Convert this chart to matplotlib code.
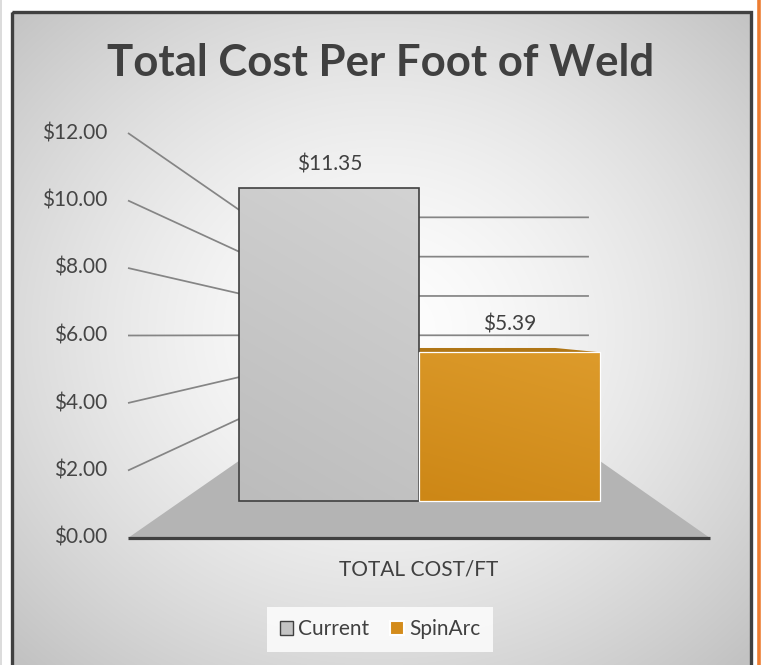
import numpy as np
import matplotlib
matplotlib.use("Agg")
import matplotlib.pyplot as plt
from matplotlib.patches import Polygon, Rectangle, Patch

# ---- data ----
title = "Total Cost Per Foot of Weld"
category = "TOTAL COST/FT"
series = ["Current", "SpinArc"]
values = [11.35, 5.39]
value_labels = ["$11.35", "$5.39"]
yticks = [0, 2, 4, 6, 8, 10, 12]
ytick_labels = ["$0.00", "$2.00", "$4.00", "$6.00", "$8.00", "$10.00", "$12.00"]

# ---- style ----
W, H = 762, 665
FONT = ["Lato", "DejaVu Sans"]
TXT = "#404040"
TICK = "#454545"

fig = plt.figure(figsize=(W / 100, H / 100), dpi=100)
ax = fig.add_axes([0, 0, 1, 1])
ax.set_xlim(0, W)
ax.set_ylim(H, 0)
ax.axis("off")

# ---- background (frame with radial gradient) ----
fx0, fy0, fx1, fy1 = 12, 12, 750, 665
yy, xx = np.mgrid[fy0:fy1, fx0:fx1]
cx, cy = 381, 330
r = np.sqrt(((xx - cx) / ((fx1 - fx0) / 2)) ** 2 + ((yy - cy) / ((fy1 - fy0) / 2)) ** 2) / np.sqrt(2)
r = np.clip(r, 0, 1)
g = (254 - (254 - 194) * r ** 1.5) / 255
ax.imshow(np.dstack([g, g, g]), extent=(fx0, fx1, fy1, fy0), zorder=0, interpolation="bilinear")
ax.add_patch(Rectangle((fx0 - 0.5, fy0 - 0.5), fx1 - fx0 + 1, fy1 - fy0 + 10,
                       fill=False, edgecolor="#404040", lw=2.4, zorder=1))
ax.plot([758.5, 758.5], [0, H], color="#ed7d31", lw=2.6, zorder=1)
ax.plot([0.8, 0.8], [0, H], color="#d6d6d6", lw=1.2, zorder=1)

# ---- perspective projection ----
VPX, VPY = 420.0, 335.0          # vanishing point
FX0, FW = 128.0, 582.0           # front plane x origin / width
FY0, PPU = 538.0, 33.75          # front plane zero line / pixels per $
S_BACK = 0.5825                  # scale of back wall
S_BAR_FRONT, S_BAR_BACK = 0.818, 0.616
GAP, BW = 0.122, 0.3785          # bar placement in category width


def proj(u, v, s):
    xf = FX0 + FW * u
    yf = FY0 - PPU * v
    return (VPX + s * (xf - VPX), VPY + s * (yf - VPY))


# wall gridlines
gcol = "#858585"
for v in yticks[1:]:
    a = proj(0, v, 1.0)
    b = proj(0, v, S_BACK)
    c = proj(1, v, S_BACK)
    ax.plot([a[0], b[0], c[0]], [a[1], b[1], c[1]], color=gcol, lw=1.25, zorder=2,
            solid_capstyle="butt")

# floor
floor = [proj(0, 0, 1), proj(1, 0, 1), proj(1, 0, S_BACK), proj(0, 0, S_BACK)]
ax.add_patch(Polygon(floor, closed=True, facecolor="#b4b4b4", edgecolor="none", zorder=3))
a, b = proj(0, 0, 1), proj(1, 0, 1)
ax.plot([a[0], b[0]], [a[1], b[1]], color="#404040", lw=2.3, zorder=4, solid_capstyle="butt")

# tick labels
for v, lab in zip(yticks, ytick_labels):
    x, y = proj(0, v, 1)
    ax.text(x - 21, y, lab, ha="right", va="center", fontsize=15, color=TICK, family=FONT)

ax.text(proj(0.5, 0, 1)[0], 570, category, ha="center", va="center",
        fontsize=15, color=TXT, family=FONT)


def grad_poly(pts, c_top, c_bot, z, edge=None, lw=0.0):
    pts = np.array(pts)
    x0, x1 = pts[:, 0].min(), pts[:, 0].max()
    y0, y1 = pts[:, 1].min(), pts[:, 1].max()
    n = 64
    ty, tx = np.mgrid[0:1:n * 1j, 0:1:n * 1j]
    t = np.clip(0.75 * ty + 0.25 * (1 - tx), 0, 1)
    ct = np.array(matplotlib.colors.to_rgb(c_top))
    cb = np.array(matplotlib.colors.to_rgb(c_bot))
    img = ct[None, None, :] * (1 - t[..., None]) + cb[None, None, :] * t[..., None]
    im = ax.imshow(img, extent=(x0, x1, y1, y0), zorder=z, interpolation="bilinear")
    poly = Polygon(pts, closed=True, facecolor="none", edgecolor="none")
    ax.add_patch(poly)
    im.set_clip_path(poly)
    if edge is not None:
        ax.add_patch(Polygon(pts, closed=True, facecolor="none", edgecolor=edge,
                             lw=lw, zorder=z + 0.1, joinstyle="miter"))


face_top = ["#d3d3d3", "#dd9b2b"]
face_bot = ["#bcbcbc", "#cd8716"]
edges = ["#404040", "#ffffff"]
top_col = ["#a0a0a0", "#b07616"]

bars = []
for i, val in enumerate(values):
    u0 = GAP + i * BW
    u1 = u0 + BW
    bars.append((u0, u1, val))

# top faces (visible when below horizon)
for i, (u0, u1, val) in enumerate(bars):
    if proj(0, val, S_BAR_FRONT)[1] > VPY:
        top = [proj(u0, val, S_BAR_FRONT), proj(u1, val, S_BAR_FRONT),
               proj(u1, val, S_BAR_BACK), proj(u0, val, S_BAR_BACK)]
        ax.add_patch(Polygon(top, closed=True, facecolor=top_col[i], edgecolor="none", zorder=5))

# front faces
for i, (u0, u1, val) in enumerate(bars):
    front = [proj(u0, 0, S_BAR_FRONT), proj(u1, 0, S_BAR_FRONT),
             proj(u1, val, S_BAR_FRONT), proj(u0, val, S_BAR_FRONT)]
    grad_poly(front, face_top[i], face_bot[i], 6, edge=edges[i], lw=1.2 if i == 0 else 0.9)

# data labels
for i, (u0, u1, val) in enumerate(bars):
    xc = proj((u0 + u1) / 2, val, S_BAR_FRONT)[0]
    ytop = min(proj(u0, val, S_BAR_FRONT)[1], proj(u0, val, S_BAR_BACK)[1])
    ax.text(xc, ytop - 23, value_labels[i], ha="center", va="center",
            fontsize=15, color=TXT, family=FONT, zorder=8)

# title
ax.text(381, 63, title, ha="center", va="center", fontsize=31.5, fontweight="bold",
        color=TXT, family=FONT, zorder=8)

# legend
handles = [Patch(facecolor="#c4c4c4", edgecolor="#404040", lw=1.0, label=series[0]),
           Patch(facecolor="#d48c1c", edgecolor="#ffffff", lw=1.5, label=series[1])]
leg = fig.legend(handles=handles, loc="center", bbox_to_anchor=(380 / W, 1 - 629 / H),
                 ncol=2, frameon=True, fancybox=False, handlelength=0.65, handleheight=0.65,
                 handletextpad=0.25, columnspacing=1.0, borderpad=0.6,
                 prop={"family": FONT, "size": 15})
leg.get_frame().set_facecolor((1, 1, 1, 0.22))
leg.get_frame().set_edgecolor("none")
for t in leg.get_texts():
    t.set_color(TXT)

fig.savefig("out.png", dpi=100)
